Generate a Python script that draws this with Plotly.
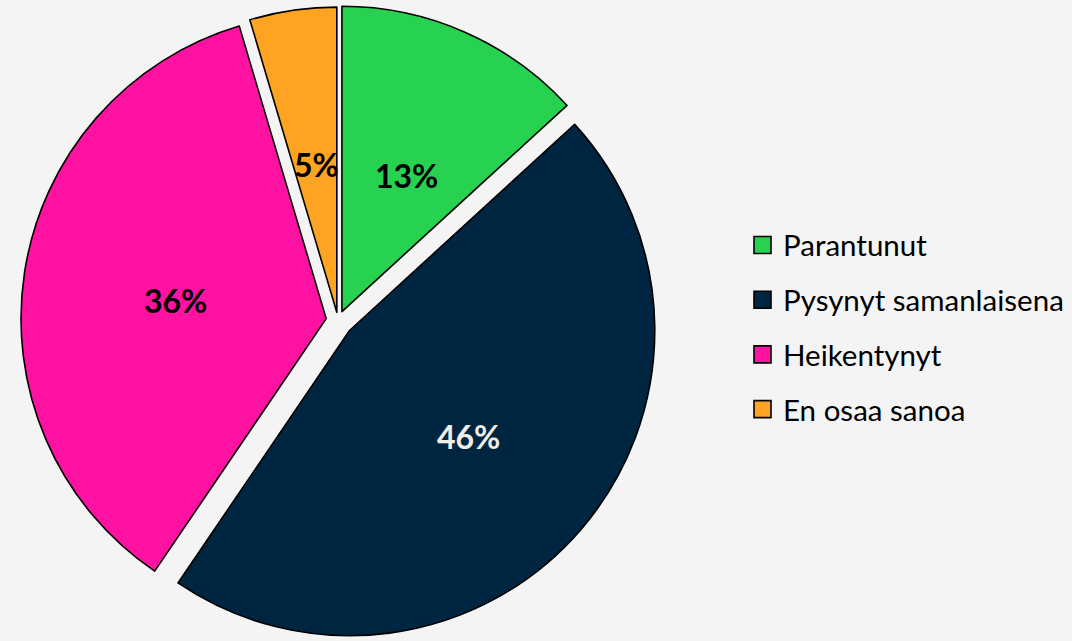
import math
import plotly.graph_objects as go

labels = ["Parantunut", "Pysynyt samanlaisena", "Heikentynyt", "En osaa sanoa"]
values = [13.2, 46.3, 35.9, 4.6]
text_labels = ["13%", "46%", "36%", "5%"]
colors = ["#26d24f", "#002541", "#ff12a2", "#ffa322"]
label_colors = ["#000000", "#f0eee6", "#000000", "#000000"]
pulls = [0.032, 0.050, 0.039, 0.027]

W, H = 1072, 641
BG = "#f4f4f4"
dom_x = [0.0, 0.6306]
dom_y = [0.0, 1.0]

fig = go.Figure()
fig.add_trace(go.Pie(
    labels=labels, values=values, sort=False, direction="clockwise", rotation=0,
    pull=pulls, textinfo="none", hoverinfo="label",
    marker=dict(colors=colors, line=dict(color="#000000", width=1.6)),
    domain=dict(x=dom_x, y=dom_y), showlegend=False,
))

# geometry matching plotly's pie scaling
rx = W * (dom_x[1] - dom_x[0]) / 2
ry = H * (dom_y[1] - dom_y[0]) / 2
r = min(rx, ry) / (1 + max(pulls))
cx = W * (dom_x[0] + dom_x[1]) / 2
cy = H * (1 - dom_y[0]) - ry

total = sum(values)
cum = 0
annotations = []
for v, t, c, p in zip(values, text_labels, label_colors, pulls):
    mid = (cum + v / 2) / total * 2 * math.pi
    cum += v
    d = r * (0.505 + p)
    px = cx + d * math.sin(mid)
    py = cy - d * math.cos(mid)
    annotations.append(dict(
        x=px / W, y=1 - py / H, xref="paper", yref="paper", text=t, showarrow=False,
        font=dict(family="Lato", size=32, color=c, weight="bold"),
        xanchor="center", yanchor="middle", xshift=2, yshift=-5,
    ))

# custom legend
leg_x = 754
leg_y0 = 245
leg_step = 54.7
sq = 17
shapes = []
for i, (lab, col) in enumerate(zip(labels, colors)):
    yc = leg_y0 + i * leg_step
    shapes.append(dict(
        type="rect", xref="paper", yref="paper",
        x0=leg_x / W, x1=(leg_x + sq) / W,
        y0=1 - (yc + sq / 2) / H, y1=1 - (yc - sq / 2) / H,
        fillcolor=col, line=dict(color="#000000", width=1.6),
    ))
    annotations.append(dict(
        x=(leg_x + sq + 10) / W, y=1 - yc / H, xref="paper", yref="paper",
        text=lab, showarrow=False, xanchor="left", yanchor="middle",
        font=dict(family="Lato", size=29.5, color="#000000"),
    ))

fig.update_layout(
    width=W, height=H,
    margin=dict(l=0, r=0, t=0, b=0),
    paper_bgcolor=BG, plot_bgcolor=BG,
    annotations=annotations, shapes=shapes,
    showlegend=False,
)

fig.write_html(
    "out.html",
    config={"displayModeBar": False},
    post_script="document.body.style.margin='0';document.body.style.overflow='hidden';document.body.style.background='#f4f4f4';",
)
